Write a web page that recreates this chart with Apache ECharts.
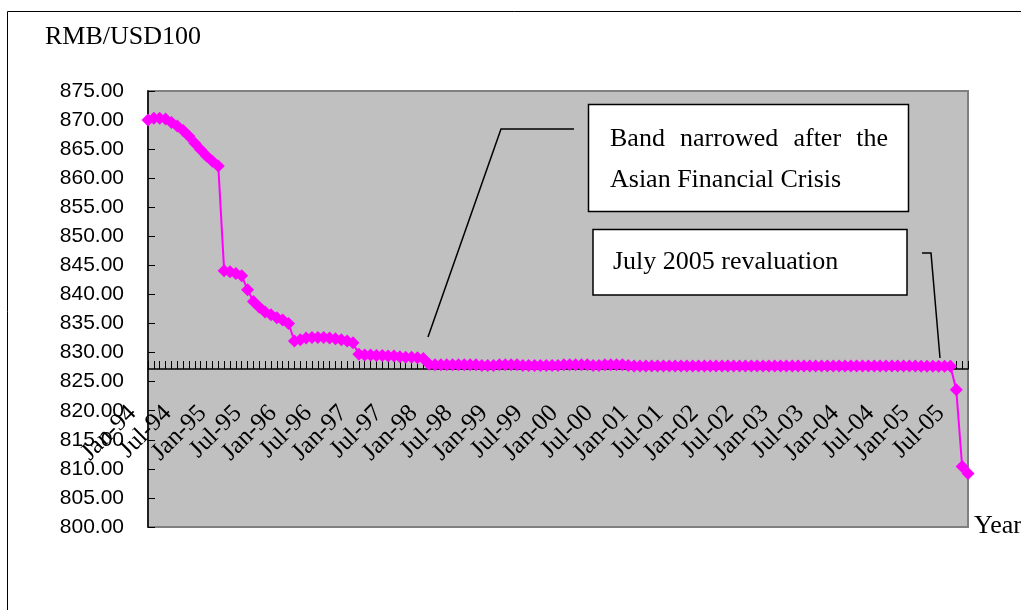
<!DOCTYPE html>
<html>
<head>
<meta charset="utf-8">
<script src="https://cdn.jsdelivr.net/npm/echarts@6/dist/echarts.min.js"></script>
<style>
html,body{margin:0;padding:0;background:#fff;}
#chart{width:1021px;height:610px;}
</style>
</head>
<body>
<div id="chart"></div>
<script>
// ---- data (RMB per USD100, monthly, Jan-94 .. Sep-05) ----
const monthNames = ['Jan','Feb','Mar','Apr','May','Jun','Jul','Aug','Sep','Oct','Nov','Dec'];
const years = [1994,1995,1996,1997,1998,1999,2000,2001,2002,2003,2004,2005];
const monthsIn2005 = 9;
const labelEvery = 6;

const rate1994 = [870.0, 870.3, 870.3, 870.2, 869.6, 869.0, 868.2, 867.2, 866.0, 864.9, 863.8, 862.9];
const rate1995 = [862.1, 844.1, 843.9, 843.6, 843.2, 840.8, 838.8, 837.8, 837.0, 836.5, 836.0, 835.6];
const rate1996 = [835.0, 832.0, 832.2, 832.5, 832.6, 832.6, 832.6, 832.5, 832.4, 832.2, 832.0, 831.7];
const rate1997 = [829.7, 829.6, 829.6, 829.5, 829.5, 829.4, 829.4, 829.3, 829.2, 829.2, 829.1, 829.0];
const rate1998 = [828.0, 827.9, 827.9, 827.9, 827.9, 827.9, 827.9, 827.9, 827.9, 827.8, 827.8, 827.8];
const rate1999 = [827.9, 827.9, 827.9, 827.9, 827.8, 827.8, 827.8, 827.8, 827.8, 827.8, 827.8, 827.9];
const rate2000 = [827.9, 827.9, 827.9, 827.9, 827.8, 827.8, 827.9, 827.9, 827.9, 827.9, 827.8, 827.7];
const rate2001 = [827.7, 827.7, 827.7, 827.7, 827.7, 827.7, 827.7, 827.7, 827.7, 827.7, 827.7, 827.7];
const rate2002 = [827.7, 827.7, 827.7, 827.7, 827.7, 827.7, 827.7, 827.7, 827.7, 827.7, 827.7, 827.7];
const rate2003 = [827.7, 827.7, 827.7, 827.7, 827.7, 827.7, 827.7, 827.7, 827.7, 827.7, 827.7, 827.7];
const rate2004 = [827.7, 827.7, 827.7, 827.7, 827.7, 827.7, 827.7, 827.7, 827.7, 827.7, 827.7, 827.7];
const rate2005 = [827.65, 827.65, 827.65, 827.65, 827.65, 827.65, 823.6, 810.4, 809.2];

const rates = [].concat(rate1994, rate1995, rate1996, rate1997, rate1998, rate1999,
                        rate2000, rate2001, rate2002, rate2003, rate2004, rate2005);

const categories = [];
years.forEach(function (y) {
  const n = (y === 2005) ? monthsIn2005 : 12;
  for (let m = 0; m < n; m++) {
    categories.push(monthNames[m] + '-' + String(y).slice(2));
  }
});

const yMin = 800, yMax = 875, yStep = 5;
const yTitle = 'RMB/USD100';
const xTitle = 'Year';
const note1Line1 = ['Band', 'narrowed', 'after', 'the'];
const note1Line2 = 'Asian Financial Crisis';
const note2 = 'July 2005 revaluation';

// ---- chart ----
const chart = echarts.init(document.getElementById('chart'), null, {renderer: 'canvas'});

const serif = '"Liberation Serif", "Times New Roman", serif';
const sans = '"Liberation Sans", Arial, sans-serif';

function txt(text, x, y, size, align) {
  return {
    type: 'text', z: 100,
    style: {
      text: text, x: x, y: y,
      font: size + 'px ' + serif,
      fill: '#000',
      align: align || 'left', textAlign: align || 'left',
      verticalAlign: 'middle', textVerticalAlign: 'middle'
    }
  };
}

// justified first line of note 1 (word positions)
const jLeft = 610, jRight = 888;
const measureCtx = document.createElement('canvas').getContext('2d');
measureCtx.font = '26px ' + serif;
const wordW = note1Line1.map(w => measureCtx.measureText(w).width);
const totalW = wordW.reduce((a, b) => a + b, 0);
const gap = (jRight - jLeft - totalW) / (note1Line1.length - 1);
const line1Elems = [];
let cx = jLeft;
note1Line1.forEach(function (w, i) {
  line1Elems.push(txt(w, cx, 139, 26, 'left'));
  cx += wordW[i] + gap;
});

const option = {
  animation: false,
  backgroundColor: '#ffffff',
  grid: {
    left: 148, right: 53, top: 91, bottom: 83,
    show: true,
    backgroundColor: '#C0C0C0',
    borderColor: '#808080',
    borderWidth: 2,
    containLabel: false,
    outerBoundsMode: 'none'
  },
  xAxis: {
    type: 'category',
    data: categories,
    boundaryGap: false,
    position: 'bottom',
    offset: -158,
    axisLine: {show: true, onZero: false, lineStyle: {color: '#000', width: 1.5}},
    axisTick: {show: true, inside: true, length: 8, interval: 0, lineStyle: {color: '#000', width: 1}},
    axisLabel: {
      interval: function (idx) { return idx % labelEvery === 0; },
      rotate: 45, margin: 25, padding: [0, 22, 0, 0],
      fontFamily: serif, fontSize: 25, color: '#000',
      hideOverlap: false
    },
    splitLine: {show: false}
  },
  yAxis: {
    type: 'value',
    min: yMin, max: yMax, interval: yStep,
    axisLine: {show: true, lineStyle: {color: '#000', width: 1.5}},
    axisTick: {show: true, inside: true, length: 7, lineStyle: {color: '#000', width: 1}},
    axisLabel: {
      margin: 24, fontFamily: sans, fontSize: 21, color: '#000',
      formatter: function (v) { return v.toFixed(2); }
    },
    splitLine: {show: false}
  },
  series: [{
    type: 'line',
    data: rates,
    symbol: 'diamond',
    symbolSize: 13,
    showAllSymbol: true,
    showSymbol: true,
    itemStyle: {color: '#FF00FF', borderWidth: 0},
    lineStyle: {color: '#FF00FF', width: 2},
    emphasis: {disabled: true},
    z: 3
  }],
  graphic: [
    {type: 'rect', z: 0, silent: true,
     shape: {x: 7.5, y: 11.5, width: 1100, height: 700},
     style: {fill: 'none', stroke: '#000', lineWidth: 1}},
    txt(yTitle, 45, 37, 26, 'left'),
    txt(xTitle, 974, 526, 26, 'left'),
    // leader lines
    {type: 'polyline', z: 100, shape: {points: [[428, 337], [501, 129], [574, 129]]},
     style: {stroke: '#000', lineWidth: 1.5, fill: 'none'}},
    {type: 'polyline', z: 100, shape: {points: [[922, 253], [931, 253], [940, 358]]},
     style: {stroke: '#000', lineWidth: 1.5, fill: 'none'}},
    // note boxes
    {type: 'rect', z: 100, shape: {x: 588.5, y: 104.5, width: 320, height: 107},
     style: {fill: '#fff', stroke: '#000', lineWidth: 1.5}},
    {type: 'rect', z: 100, shape: {x: 593, y: 229.5, width: 314, height: 65.5},
     style: {fill: '#fff', stroke: '#000', lineWidth: 1.5}}
  ].concat(line1Elems, [
    txt(note1Line2, 610, 180, 26, 'left'),
    txt(note2, 613, 262, 26, 'left')
  ])
};

chart.setOption(option);
</script>
</body>
</html>
